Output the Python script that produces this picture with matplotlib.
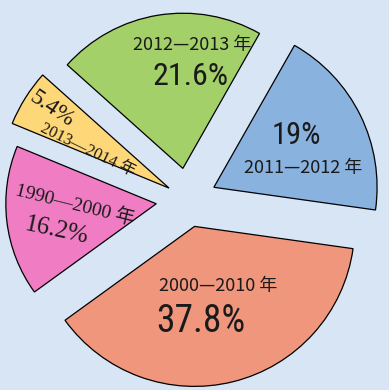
import matplotlib.pyplot as plt

# 各时期所占比例
periods = ['2011—2012 年', '2012—2013 年', '2013—2014 年', '1990—2000 年', '2000—2010 年']
shares = [19, 21.6, 5.4, 16.2, 37.8]
share_labels = ['19%', '21.6%', '5.4%', '16.2%', '37.8%']

colors = ['#8ab2de', '#a3d068', '#fdd778', '#f07dc3', '#f0967d']
explode = [0.18, 0.2, 0.14, 0.2, 0.17]
radii = [1.02, 0.97, 1.06, 0.94, 1.0]

bg = '#d7e5f5'
sans = ['Roboto Condensed', 'Noto Sans CJK SC']
cjk = ['Noto Sans CJK SC', 'DejaVu Sans']
serif = ['Liberation Serif', 'Noto Sans CJK SC']

fig = plt.figure(figsize=(3.89, 3.90), dpi=100)
fig.patch.set_facecolor(bg)
ax = fig.add_axes([0, 0, 1, 1])
ax.set_facecolor(bg)

wedges, _ = ax.pie(shares, colors=colors, explode=explode, startangle=-8,
                   counterclock=True,
                   wedgeprops=dict(edgecolor='black', linewidth=0.9))
for w, r in zip(wedges, radii):
    w.set_radius(r)

ax.set_xlim(-1.175, 1.256)
ax.set_ylim(-1.1875, 1.25)
ax.set_aspect('auto')
ax.axis('off')

txt = '#1a1a1a'
# 绿色
ax.text(0.025, 0.969, periods[1], fontsize=13, family=cjk, ha='center', va='center', color=txt)
ax.text(0.0125, 0.769, share_labels[1], fontsize=23, family=sans, ha='center', va='center', color=txt)
# 蓝色
ax.text(0.675, 0.40, share_labels[0], fontsize=22, family=sans, ha='center', va='center', color=txt)
ax.text(0.719, 0.20, periods[0], fontsize=13, family=cjk, ha='center', va='center', color=txt)
# 橙色
ax.text(0.1875, -0.5375, periods[4], fontsize=13, family=cjk, ha='center', va='center', color=txt)
ax.text(0.081, -0.7625, share_labels[4], fontsize=27, family=sans, ha='center', va='center', color=txt)
# 粉色
ax.text(-0.706, -0.031, periods[3], fontsize=14, family=serif, rotation=-14,
        rotation_mode='anchor', ha='center', va='center', color=txt)
ax.text(-0.819, -0.194, share_labels[3], fontsize=18, family=serif, rotation=-12,
        rotation_mode='anchor', ha='center', va='center', color=txt)
# 黄色
ax.text(-0.849, 0.566, share_labels[2], fontsize=17, family=serif, rotation=-34,
        rotation_mode='anchor', ha='center', va='center', color=txt)
ax.text(-0.627, 0.311, periods[2], fontsize=12, family=serif, rotation=-26,
        rotation_mode='anchor', ha='center', va='center', color=txt)

fig.savefig('out.png', dpi=100, facecolor=bg)
